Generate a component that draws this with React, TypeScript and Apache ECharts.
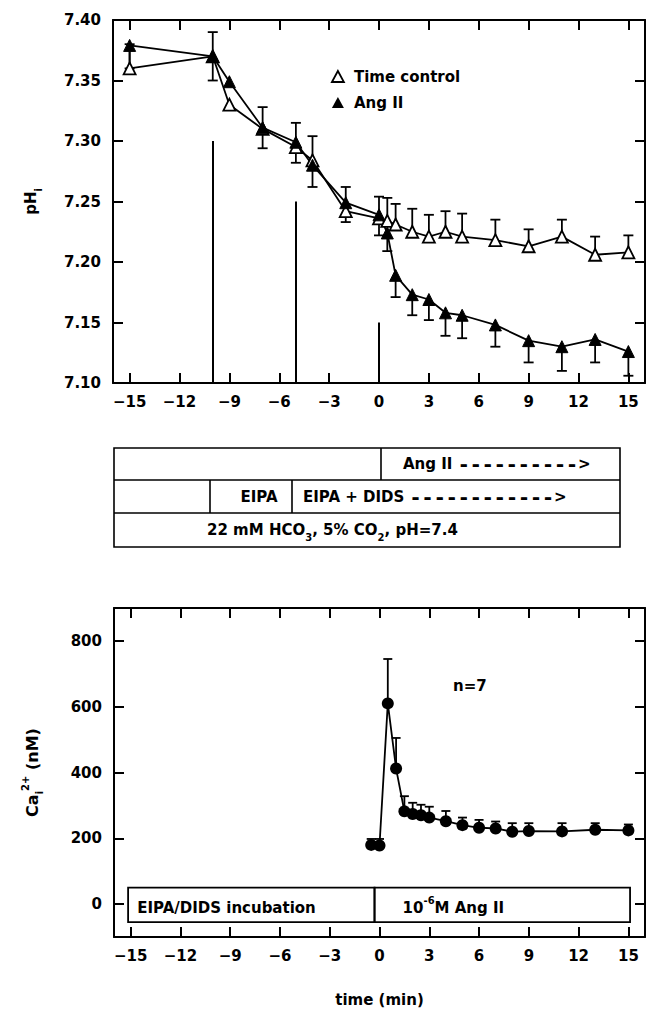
import React, { useEffect, useRef } from 'react';
import * as echarts from 'echarts';

// ---------- data ----------
const xTicks = [-15, -12, -9, -6, -3, 0, 3, 6, 9, 12, 15];
const phTicks = [7.1, 7.15, 7.2, 7.25, 7.3, 7.35, 7.4];
const caTicks = [0, 200, 400, 600, 800];

const phTime = [-15, -10, -9, -7, -5, -4, -2, 0, 0.5, 1, 2, 3, 4, 5, 7, 9, 11, 13, 15];
const timeControl = [7.36, 7.37, 7.33, 7.31, 7.295, 7.284, 7.242, 7.236, 7.234, 7.231, 7.225, 7.221, 7.225, 7.221, 7.218, 7.213, 7.221, 7.206, 7.208];
const timeControlUpper = [7.38, 7.39, null, 7.328, 7.315, 7.304, 7.262, 7.254, 7.253, 7.248, 7.244, 7.239, 7.242, 7.24, 7.235, 7.227, 7.235, 7.221, 7.222];
const angII = [7.379, 7.37, 7.349, 7.311, 7.299, 7.28, 7.249, 7.239, 7.224, 7.189, 7.173, 7.169, 7.158, 7.156, 7.148, 7.135, 7.13, 7.136, 7.126];
const angIILower = [7.36, 7.35, null, 7.294, 7.282, 7.262, 7.233, 7.222, 7.209, 7.171, 7.156, 7.152, 7.139, 7.137, 7.13, 7.117, 7.11, 7.117, 7.106];

// vertical solution-change lines: [time, top pH]
const changeLines = [[-10, 7.3], [-5, 7.25], [0, 7.15]];

const caTime = [-0.5, 0, 0.5, 1, 1.5, 2, 2.5, 3, 4, 5, 6, 7, 8, 9, 11, 13, 15];
const caValues = [180, 178, 610, 412, 282, 274, 270, 263, 252, 240, 232, 230, 220, 222, 221, 226, 224];
const caUpper = [198, 198, 745, 505, 328, 308, 302, 296, 283, 263, 256, 251, 246, 246, 246, 246, 242];

// protocol box inside the Ca chart
const caBoxes = [
  { from: -15.15, to: -0.3, label: 'EIPA/DIDS incubation', dist: 10 },
  { from: -0.3, to: 15.1, label: '10{sup|-6}M Ang II', dist: 29 },
];
const caBoxY = [-55, 50];

const FONT = 'DejaVu Sans';
const txt = { fontFamily: FONT, fontWeight: 'bold' as const, fontSize: 15, color: '#000' };

function fmtX(v: number) {
  return v < 0 ? '\u2212' + Math.abs(v) : String(v);
}

function errorRenderer(capHalf: number) {
  return (params: any, api: any) => {
    const x = api.value(0);
    const v = api.value(1);
    const e = api.value(2);
    const p0 = api.coord([x, v]);
    const p1 = api.coord([x, e]);
    const s = { stroke: '#000', lineWidth: 1.8 };
    return {
      type: 'group',
      children: [
        { type: 'line', shape: { x1: p0[0], y1: p0[1], x2: p1[0], y2: p1[1] }, style: s },
        { type: 'line', shape: { x1: p1[0] - capHalf, y1: p1[1], x2: p1[0] + capHalf, y2: p1[1] }, style: s },
      ],
    };
  };
}

const axisLine = { show: true, onZero: false, lineStyle: { color: '#000', width: 2 } };
const tick = (vals: number[]) => ({ show: true, inside: true, length: 10, customValues: vals, lineStyle: { color: '#000', width: 2 } });

export default function App() {
  const ref = useRef<HTMLDivElement>(null);
  useEffect(() => {
    if (!ref.current) return;
    const chart = echarts.init(ref.current, undefined, { renderer: 'svg' });

    const tcErr = phTime.map((t, i) => [t, timeControl[i], timeControlUpper[i]]).filter((d) => d[2] != null);
    const angErr = phTime.map((t, i) => [t, angII[i], angIILower[i]]).filter((d) => d[2] != null);
    const caErr = caTime.map((t, i) => [t, caValues[i], caUpper[i]]);

    const subRich = {
      sub: { fontFamily: FONT, fontWeight: 'bold', fontSize: 10, verticalAlign: 'bottom', lineHeight: 10, color: '#000' },
      sup: { fontFamily: FONT, fontWeight: 'bold', fontSize: 10, verticalAlign: 'top', lineHeight: 10, color: '#000' },
    };
    const dashRich = { d: { fontFamily: 'DejaVu Sans Mono', fontWeight: 'bold', fontSize: 20, fill: '#000' } };

    const option: any = {
      animation: false,
      backgroundColor: '#fff',
      textStyle: { fontFamily: FONT },
      grid: [
        { left: 113, top: 20, width: 532, height: 363 },
        { left: 114, top: 608, width: 531, height: 329 },
      ],
      xAxis: [
        { gridIndex: 0, type: 'value', min: -16, max: 16, position: 'bottom', axisLine, axisTick: tick(xTicks), axisLabel: { ...txt, customValues: xTicks, formatter: fmtX, margin: 11 }, splitLine: { show: false } },
        { gridIndex: 0, type: 'value', min: -16, max: 16, position: 'top', axisLine, axisTick: tick(xTicks), axisLabel: { show: false }, splitLine: { show: false } },
        {
          gridIndex: 1, type: 'value', min: -16, max: 16, position: 'bottom', axisLine, axisTick: tick(xTicks),
          axisLabel: { ...txt, customValues: xTicks, formatter: fmtX, margin: 11 }, splitLine: { show: false },
          name: 'time (min)', nameLocation: 'middle', nameGap: 55, nameTextStyle: { ...txt },
        },
        { gridIndex: 1, type: 'value', min: -16, max: 16, position: 'top', axisLine, axisTick: tick(xTicks), axisLabel: { show: false }, splitLine: { show: false } },
      ],
      yAxis: [
        {
          gridIndex: 0, type: 'value', min: 7.1, max: 7.4, position: 'left', axisLine, axisTick: tick(phTicks),
          axisLabel: { ...txt, customValues: phTicks, formatter: (v: number) => v.toFixed(2), margin: 12 }, splitLine: { show: false },
          name: 'pH{sub|i}', nameLocation: 'middle', nameRotate: 90, nameGap: 70,
          nameTextStyle: { ...txt, lineHeight: 24, rich: subRich },
        },
        { gridIndex: 0, type: 'value', min: 7.1, max: 7.4, position: 'right', axisLine, axisTick: tick(phTicks), axisLabel: { show: false }, splitLine: { show: false } },
        {
          gridIndex: 1, type: 'value', min: -100, max: 900, position: 'left', axisLine, axisTick: tick(caTicks),
          axisLabel: { ...txt, customValues: caTicks, margin: 12 }, splitLine: { show: false },
          name: 'Ca{sub|i}{sup|2+} (nM)', nameLocation: 'middle', nameRotate: 90, nameGap: 70,
          nameTextStyle: { ...txt, fontSize: 16, lineHeight: 24, rich: subRich },
        },
        { gridIndex: 1, type: 'value', min: -100, max: 900, position: 'right', axisLine, axisTick: tick(caTicks), axisLabel: { show: false }, splitLine: { show: false } },
      ],
      legend: {
        orient: 'vertical', left: 326, top: 64, itemWidth: 12, itemHeight: 11, itemGap: 11, icon: 'triangle',
        textStyle: { ...txt, padding: [0, 0, 0, 5] },
        data: [
          { name: 'Time control', itemStyle: { color: '#fff', borderColor: '#000', borderWidth: 1.8 } },
          { name: 'Ang II', itemStyle: { color: '#000', borderColor: '#000', borderWidth: 0 } },
        ],
        selectedMode: false,
      },
      series: [
        { type: 'custom', name: 'tcErr', xAxisIndex: 0, yAxisIndex: 0, renderItem: errorRenderer(5), data: tcErr, encode: { x: 0, y: [1, 2] }, silent: true },
        { type: 'custom', name: 'angErr', xAxisIndex: 0, yAxisIndex: 0, renderItem: errorRenderer(5), data: angErr, encode: { x: 0, y: [1, 2] }, silent: true },
        {
          type: 'line', name: 'Time control', xAxisIndex: 0, yAxisIndex: 0,
          data: phTime.map((t, i) => [t, timeControl[i]]),
          symbol: 'triangle', symbolSize: 12, showSymbol: true,
          itemStyle: { color: '#fff', borderColor: '#000', borderWidth: 1.8 },
          lineStyle: { color: '#000', width: 1.8 },
          markLine: {
            silent: true, symbol: ['none', 'none'], label: { show: false },
            lineStyle: { color: '#000', width: 2, type: 'solid' },
            data: changeLines.map(([x, top]) => [{ coord: [x, phTicks[0]] }, { coord: [x, top] }]),
          },
        },
        {
          type: 'line', name: 'Ang II', xAxisIndex: 0, yAxisIndex: 0,
          data: phTime.map((t, i) => [t, angII[i]]),
          symbol: 'triangle', symbolSize: 12, showSymbol: true,
          itemStyle: { color: '#000', borderColor: '#000', borderWidth: 1 },
          lineStyle: { color: '#000', width: 1.8 },
        },
        { type: 'custom', name: 'caErr', xAxisIndex: 2, yAxisIndex: 2, renderItem: errorRenderer(4.5), data: caErr, encode: { x: 0, y: [1, 2] }, silent: true },
        {
          type: 'line', name: 'Ca', xAxisIndex: 2, yAxisIndex: 2,
          data: caTime.map((t, i) => [t, caValues[i]]),
          symbol: 'circle', symbolSize: 12, showSymbol: true,
          itemStyle: { color: '#000' },
          lineStyle: { color: '#000', width: 1.8 },
          markArea: {
            silent: true,
            itemStyle: { color: 'rgba(0,0,0,0)', borderColor: '#000', borderWidth: 1.8 },
            data: caBoxes.map((b) => [
              {
                xAxis: b.from, yAxis: caBoxY[0],
                label: { show: true, position: 'insideLeft', distance: b.dist, offset: [0, 3], formatter: b.label, ...txt, lineHeight: 24, rich: subRich },
              },
              { xAxis: b.to, yAxis: caBoxY[1] },
            ]),
          },
        },
      ],
      graphic: [
        { type: 'text', left: 453, top: 678, style: { text: 'n=7', font: `bold 15px "${FONT}"`, fill: '#000' } },
        // protocol table
        { type: 'rect', shape: { x: 114, y: 448, width: 506, height: 99 }, style: { fill: 'none', stroke: '#000', lineWidth: 1.6 } },
        { type: 'line', shape: { x1: 114, y1: 480, x2: 620, y2: 480 }, style: { stroke: '#000', lineWidth: 1.6 } },
        { type: 'line', shape: { x1: 114, y1: 513, x2: 620, y2: 513 }, style: { stroke: '#000', lineWidth: 1.6 } },
        { type: 'line', shape: { x1: 381, y1: 448, x2: 381, y2: 480 }, style: { stroke: '#000', lineWidth: 1.6 } },
        { type: 'line', shape: { x1: 210, y1: 480, x2: 210, y2: 513 }, style: { stroke: '#000', lineWidth: 1.6 } },
        { type: 'line', shape: { x1: 292, y1: 480, x2: 292, y2: 513 }, style: { stroke: '#000', lineWidth: 1.6 } },
        {
          type: 'text', x: 403, y: 464,
          style: { text: 'Ang II {d|----------}>', font: `bold 15px "${FONT}"`, fill: '#000', verticalAlign: 'middle', rich: dashRich },
        },
        { type: 'text', x: 259, y: 497, style: { text: 'EIPA', font: `bold 15px "${FONT}"`, fill: '#000', align: 'center', verticalAlign: 'middle' } },
        {
          type: 'text', x: 303, y: 497,
          style: { text: 'EIPA + DIDS {d|------------}>', font: `bold 15px "${FONT}"`, fill: '#000', verticalAlign: 'middle', rich: dashRich },
        },
        {
          type: 'text', x: 207, y: 530,
          style: {
            text: '22 mM HCO{sub|3}, 5% CO{sub|2}, pH=7.4', font: `bold 15px "${FONT}"`, fill: '#000', verticalAlign: 'middle', lineHeight: 24,
            rich: {
              sub: { fontFamily: FONT, fontWeight: 'bold', fontSize: 10, verticalAlign: 'bottom', lineHeight: 10, fill: '#000' },
            },
          },
        },
      ],
    };
    chart.setOption(option);
    return () => chart.dispose();
  }, []);
  return <div ref={ref} style={{ position: 'absolute', left: 0, top: 0, width: 648, height: 1009 }} />;
}
